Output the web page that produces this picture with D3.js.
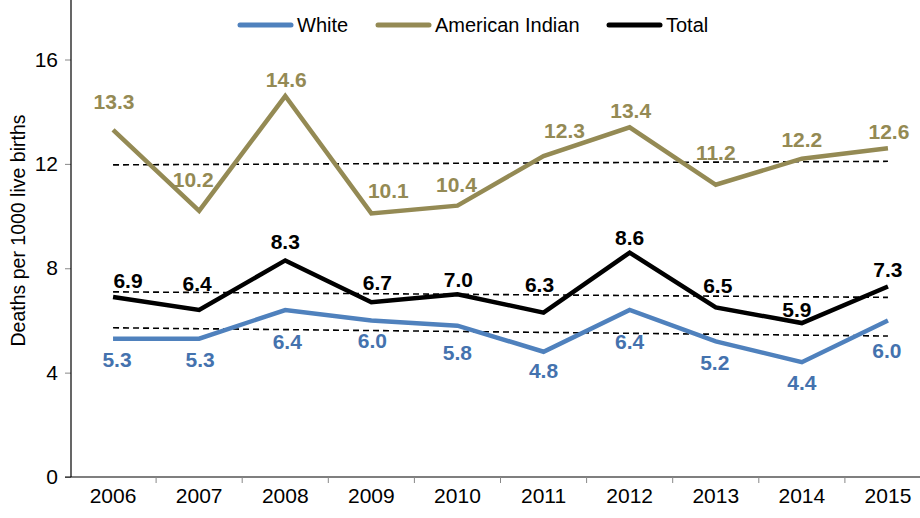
<!DOCTYPE html>
<html>
<head>
<meta charset="utf-8">
<script src="https://cdn.jsdelivr.net/npm/d3@7"></script>
<style>
  html, body { margin: 0; padding: 0; background: #fff; }
  svg { display: block; font-family: "Liberation Sans", Arial, sans-serif; }
</style>
</head>
<body>
<svg id="chart" width="920" height="518"></svg>
<script>
// Infant deaths per 1000 live births, 2006–2015
const years = ["2006", "2007", "2008", "2009", "2010", "2011", "2012", "2013", "2014", "2015"];
const white = [5.3, 5.3, 6.4, 6.0, 5.8, 4.8, 6.4, 5.2, 4.4, 6.0];
const americanIndian = [13.3, 10.2, 14.6, 10.1, 10.4, 12.3, 13.4, 11.2, 12.2, 12.6];
const total = [6.9, 6.4, 8.3, 6.7, 7.0, 6.3, 8.6, 6.5, 5.9, 7.3];
const yTicks = [0, 4, 8, 12, 16];
const seriesNames = ["White", "American Indian", "Total"];

// Hand-placed label nudges (dx, dy from each point), as laid out in the original report
const whiteNudge = [[4, 21], [1, 21], [2, 31], [1, 20], [0, 27], [0, 19], [0, 31], [-1, 21], [0, 20], [-1, 30]];
const aiNudge = [[1, -29], [-6, -31], [1, -17], [17, -23], [-1, -21], [21, -26], [1, -17], [0, -32], [0, -19], [1, -17]];
const totalNudge = [[15, -17], [-2, -27], [0, -19], [6, -20], [1, -15], [-4, -28], [0, -15], [2, -22], [-5, -14], [0, -17]];

const svg = d3.select("#chart");
const W = 920, H = 518;
const left = 71, bottom = 477;
const tickFont = "'Liberation Sans Narrow', 'Liberation Sans', Arial, sans-serif";

const x = d3.scaleBand().domain(years).range([70, 931]).padding(0);
const cx = d => x(d) + x.bandwidth() / 2;
const y = d3.scaleLinear().domain([0, 16]).range([bottom, 59.5]);

const series = [
  { name: seriesNames[0], values: white, line: "#4F81BD", text: "#4472AE", nudge: whiteNudge },
  { name: seriesNames[1], values: americanIndian, line: "#948A54", text: "#948A54", nudge: aiNudge },
  { name: seriesNames[2], values: total, line: "#000000", text: "#000000", nudge: totalNudge }
];

// Y axis
const yAxis = d3.axisLeft(y).tickValues(yTicks).tickSize(6).tickPadding(7).tickFormat(d3.format("d"));
const gy = svg.append("g").attr("transform", `translate(${left},0)`).call(yAxis);
gy.select(".domain").remove();
gy.selectAll(".tick line").attr("stroke", "#888").attr("stroke-width", 1);
gy.selectAll(".tick text").attr("font-size", 21).attr("fill", "#000")
  .attr("font-family", tickFont);
svg.append("line").attr("x1", left).attr("x2", left).attr("y1", 0).attr("y2", bottom)
  .attr("stroke", "#000").attr("stroke-width", 1.2);

// X axis
const xAxis = d3.axisBottom(x).tickSize(0).tickPadding(11);
const gx = svg.append("g").attr("transform", `translate(0,${bottom})`).call(xAxis);
gx.select(".domain").remove();
gx.selectAll(".tick text").attr("font-size", 21).attr("fill", "#000")
  .attr("font-family", tickFont);
svg.append("line").attr("x1", left - 6).attr("x2", W).attr("y1", bottom).attr("y2", bottom)
  .attr("stroke", "#000").attr("stroke-width", 1.2);
svg.append("g").selectAll("line").data(years.slice(1)).join("line")
  .attr("x1", d => x(d)).attr("x2", d => x(d))
  .attr("y1", bottom).attr("y2", bottom + 6)
  .attr("stroke", "#888").attr("stroke-width", 1);

// Axis title
svg.append("text")
  .attr("transform", `translate(25,${bottom / 2 - 8}) rotate(-90)`)
  .attr("text-anchor", "middle")
  .attr("font-size", 19.5)
  .attr("fill", "#000")
  .text("Deaths per 1000 live births");

// Linear trend for each series (least squares over the year index)
function trend(vals) {
  const n = vals.length;
  const xs = d3.range(n);
  const mx = d3.mean(xs), my = d3.mean(vals);
  const sxy = d3.sum(xs, i => (i - mx) * (vals[i] - my));
  const sxx = d3.sum(xs, i => (i - mx) * (i - mx));
  const b = sxy / sxx, a = my - b * mx;
  return [a, a + b * (n - 1)];
}

const line = d3.line().x((d, i) => cx(years[i])).y(d => y(d));

// Trend lines
series.forEach(s => {
  const [v0, v1] = trend(s.values);
  svg.append("line")
    .attr("x1", cx(years[0])).attr("y1", y(v0))
    .attr("x2", cx(years[years.length - 1])).attr("y2", y(v1))
    .attr("stroke", "#000").attr("stroke-width", 1.6)
    .attr("stroke-dasharray", "6,4");
});

// Series lines
series.forEach(s => {
  svg.append("path").datum(s.values)
    .attr("d", line)
    .attr("fill", "none")
    .attr("stroke", s.line)
    .attr("stroke-width", 4.5)
    .attr("stroke-linejoin", "miter");
});

// Value labels
series.forEach(s => {
  svg.append("g").selectAll("text").data(s.values).join("text")
    .attr("x", (d, i) => cx(years[i]) + s.nudge[i][0])
    .attr("y", (d, i) => y(d) + s.nudge[i][1])
    .attr("dy", "0.36em")
    .attr("text-anchor", "middle")
    .attr("font-size", 21)
    .attr("font-weight", "bold")
    .attr("fill", s.text)
    .text(d => d3.format(".1f")(d));
});

// Legend
const legendItems = [
  { name: seriesNames[0], color: "#4F81BD", x: 238 },
  { name: seriesNames[1], color: "#948A54", x: 376 },
  { name: seriesNames[2], color: "#000000", x: 607 }
];
const lg = svg.append("g");
legendItems.forEach(it => {
  lg.append("line")
    .attr("x1", it.x + 2).attr("x2", it.x + 53)
    .attr("y1", 25).attr("y2", 25)
    .attr("stroke", it.color).attr("stroke-width", 5)
    .attr("stroke-linecap", "round");
  lg.append("text")
    .attr("x", it.x + 59).attr("y", 25).attr("dy", "0.36em")
    .attr("font-size", 20).attr("fill", "#000")
    .text(it.name);
});
</script>
</body>
</html>
